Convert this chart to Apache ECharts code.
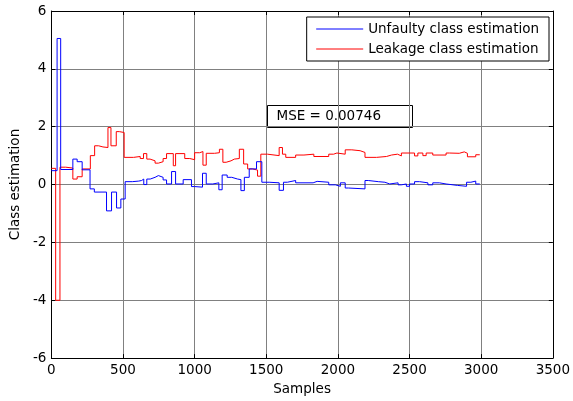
<!DOCTYPE html>
<html>
<head>
<meta charset="utf-8">
<script src="https://cdn.jsdelivr.net/npm/echarts@6/dist/echarts.min.js"></script>
<style>
  html, body { margin: 0; padding: 0; background: #fff; }
  #chart { width: 573px; height: 401px; }
</style>
</head>
<body>
<div id="chart"></div>
<script>
// x ticks / y ticks
const xTicks = [0, 500, 1000, 1500, 2000, 2500, 3000, 3500]
const yTicks = [-6, -4, -2, 0, 2, 4, 6]

// Unfaulty class estimation (step breakpoints -> value held until next breakpoint)
const unfaultyX = [0, 40, 65, 150, 180, 215, 270, 300, 385, 420, 455, 485, 515, 565, 610, 630, 645, 666, 690, 724, 747, 780, 804, 839, 867, 920, 978, 1000, 1055, 1081, 1127, 1169, 1192, 1227, 1259, 1300, 1323, 1347, 1381, 1432, 1469, 1520, 1590, 1620, 1647, 1705, 1827, 1855, 1936, 1982, 2017, 2051, 2074, 2189, 2212, 2282, 2328, 2362, 2420, 2443, 2478, 2500, 2535, 2570, 2628, 2662, 2708, 2755, 2835, 2898, 2928, 2962, 2990]
const unfaultyY = [0.48, 5.05, 0.52, 0.88, 0.79, 0.51, -0.15, -0.26, -0.91, -0.26, -0.81, -0.5, 0.1, 0.12, 0.14, 0.19, 0.0, 0.19, 0.25, 0.31, 0.25, 0.16, 0.02, 0.45, 0.02, 0.17, -0.07, -0.09, 0.39, 0.02, 0.06, -0.18, 0.33, 0.25, 0.19, 0.17, -0.21, 0.25, 0.54, 0.79, 0.08, 0.06, -0.2, 0.08, 0.14, 0.06, 0.11, 0.08, -0.01, -0.06, 0.06, -0.12, -0.15, 0.14, 0.1, 0.08, 0.02, 0.06, -0.01, 0.02, -0.06, 0.02, 0.1, 0.06, -0.01, 0.06, 0.02, -0.03, -0.06, 0.08, 0.12, 0.02, 0.02]

// Leakage class estimation
const leakageX = [0, 30, 60, 100, 150, 180, 215, 272, 302, 330, 360, 395, 416, 453, 474, 508, 574, 620, 643, 666, 689, 724, 747, 780, 804, 851, 867, 931, 966, 1000, 1035, 1058, 1081, 1139, 1173, 1197, 1220, 1254, 1277, 1312, 1342, 1370, 1404, 1439, 1462, 1508, 1590, 1613, 1636, 1705, 1763, 1832, 1936, 1970, 1993, 2051, 2097, 2155, 2189, 2270, 2339, 2374, 2416, 2443, 2535, 2558, 2593, 2616, 2662, 2755, 2778, 2847, 2882, 2904, 2962, 2990]
const leakageY = [0.56, -4, 0.6, 0.57, 0.19, 0.27, 0.54, 1.0, 1.34, 1.3, 1.28, 1.97, 1.34, 1.83, 1.8, 0.94, 0.97, 0.9, 1.07, 0.88, 0.82, 0.74, 0.79, 0.9, 1.07, 0.65, 1.07, 0.9, 0.86, 1.1, 1.14, 0.67, 1.08, 1.1, 1.22, 0.77, 0.82, 0.88, 0.9, 1.22, 0.71, 0.54, 0.5, 0.29, 1.05, 1.0, 1.28, 1.05, 0.94, 1.02, 1.05, 0.97, 1.05, 1.09, 1.05, 1.2, 1.17, 1.11, 0.94, 0.97, 1.02, 1.05, 0.99, 1.09, 0.99, 1.09, 1.0, 1.09, 1.02, 1.09, 1.08, 1.13, 1.08, 0.96, 1.03, 1.03]

const mseText = 'MSE = 0.00746'
const font = 'DejaVu Sans'

let chart = echarts.init(document.getElementById('chart'))

// 坐标轴框（上、右）只画刻度
const boxAxis = {
  type: 'value',
  axisLine: { show: true, onZero: false, lineStyle: { color: '#000', width: 1 } },
  axisTick: { show: true, inside: true, length: 4, lineStyle: { color: '#000' } },
  axisLabel: { show: false },
  splitLine: { show: false }
}

const option = {
  animation: false,
  backgroundColor: '#fff',
  textStyle: { fontFamily: font },
  grid: { left: 51, right: 17, top: 11, bottom: 40 },
  legend: {
    orient: 'vertical',
    right: 24,
    top: 17,
    backgroundColor: '#fff',
    borderColor: '#000',
    borderWidth: 1,
    borderRadius: 0,
    padding: [5, 10, 5, 9],
    itemWidth: 47,
    itemHeight: 14,
    itemGap: 6,
    itemStyle: { opacity: 0 },
    lineStyle: { width: 1 },
    textStyle: { fontFamily: font, fontSize: 13.5, color: '#000' },
    data: ['Unfaulty class estimation', 'Leakage class estimation']
  },
  xAxis: [
    {
      type: 'value',
      min: xTicks[0],
      max: xTicks[xTicks.length - 1],
      interval: 500,
      name: 'Samples',
      nameLocation: 'middle',
      nameGap: 20,
      nameTextStyle: { fontFamily: font, fontSize: 13.5, color: '#000' },
      axisLine: { show: true, onZero: false, lineStyle: { color: '#000', width: 1 } },
      axisTick: { show: true, inside: true, length: 4, lineStyle: { color: '#000' } },
      axisLabel: { margin: 5, fontFamily: font, fontSize: 13.5, color: '#000', formatter: v => String(v) },
      splitLine: { show: true, lineStyle: { color: '#808080', width: 1 } }
    },
    Object.assign({}, boxAxis, {
      position: 'top',
      min: xTicks[0],
      max: xTicks[xTicks.length - 1],
      interval: 500
    })
  ],
  yAxis: [
    {
      type: 'value',
      min: yTicks[0],
      max: yTicks[yTicks.length - 1],
      interval: 2,
      name: 'Class estimation',
      nameLocation: 'middle',
      nameGap: 29,
      nameTextStyle: { fontFamily: font, fontSize: 13.5, color: '#000' },
      axisLine: { show: true, onZero: false, lineStyle: { color: '#000', width: 1 } },
      axisTick: { show: true, inside: true, length: 4, lineStyle: { color: '#000' } },
      axisLabel: { margin: 5, fontFamily: font, fontSize: 13.5, color: '#000', formatter: v => String(v) },
      splitLine: { show: true, lineStyle: { color: '#808080', width: 1 } }
    },
    Object.assign({}, boxAxis, {
      position: 'right',
      min: yTicks[0],
      max: yTicks[yTicks.length - 1],
      interval: 2
    })
  ],
  series: [
    {
      name: 'Unfaulty class estimation',
      type: 'line',
      step: 'end',
      symbol: 'none',
      color: '#0000ff',
      lineStyle: { color: '#0000ff', width: 1 },
      data: unfaultyX.map((x, i) => [x, unfaultyY[i]]),
      z: 3
    },
    {
      name: 'Leakage class estimation',
      type: 'line',
      step: 'end',
      symbol: 'none',
      color: '#ff0000',
      lineStyle: { color: '#ff0000', width: 1 },
      data: leakageX.map((x, i) => [x, leakageY[i]]),
      z: 2
    }
  ],
  graphic: [
    {
      type: 'group',
      left: 267,
      top: 105,
      z: 10,
      children: [
        {
          type: 'rect',
          shape: { x: 0, y: 0, width: 145, height: 22 },
          style: { fill: '#fff', stroke: '#000', lineWidth: 1 }
        },
        {
          type: 'text',
          x: 9,
          y: 11,
          style: { text: mseText, fill: '#000', font: '13.5px "DejaVu Sans"', verticalAlign: 'middle' }
        }
      ]
    }
  ]
}

chart.setOption(option)
</script>
</body>
</html>
